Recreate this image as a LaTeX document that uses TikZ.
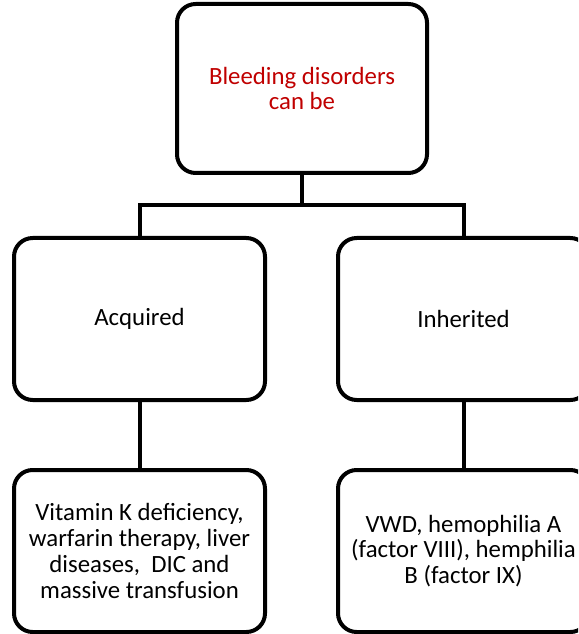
\documentclass[tikz,border=0pt]{standalone}
\usepackage{fontspec}
\setmainfont{Carlito}
\usepackage{xcolor}
\usepackage{tikz}
\definecolor{bleedred}{RGB}{192,0,0}

\begin{document}
\begin{tikzpicture}[x=0.75pt,y=0.75pt,yscale=-1,xscale=1,
  box/.style={draw,line width=3pt,rounded corners=14pt,align=center,
    minimum width=188.25pt,minimum height=121.5pt,
    font=\fontsize{18.6pt}{19.3pt}\selectfont},
  link/.style={line width=3pt}]
\useasboundingbox (0,0) rectangle (578,634);
\clip (0,0) rectangle (578,634);
\node [box,minimum width=187.5pt,minimum height=126.75pt,text=bleedred] (root) at (302,88.5) {Bleeding disorders\\can be};
\node [box] (acq) at (139.5,319) {Acquired};
\node [box] (inh) at (463.5,319) {Inherited};
\node [box] (acqlist) at (139.5,551) {Vitamin K deficiency,\\warfarin therapy, liver\\diseases,\ \ DIC and\\massive transfusion};
\node [box] (inhlist) at (463.5,551) {VWD, hemophilia A\\(factor VIII), hemphilia\\B (factor IX)};
\coordinate (split) at (302,205);
\draw [link] (root.south) -- (split);
\draw [link] (acq.north) |- (split) -| (inh.north);
\draw [link] (acq.south) -- (acqlist.north);
\draw [link] (inh.south) -- (inhlist.north);
\end{tikzpicture}
\end{document}
